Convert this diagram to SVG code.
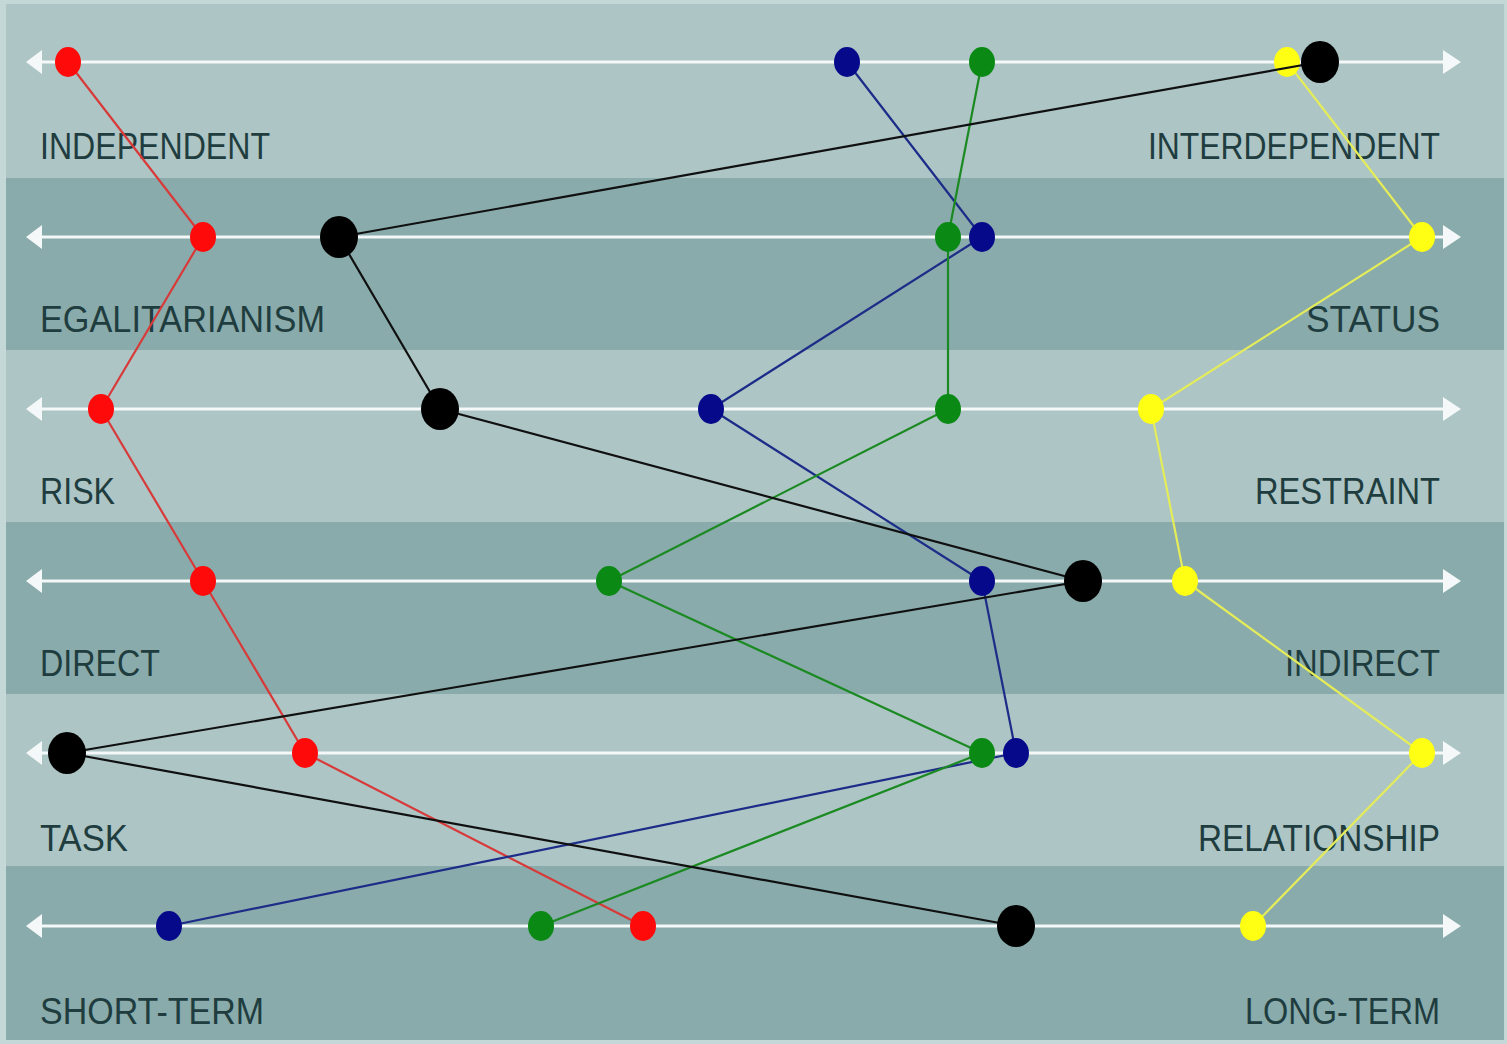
<svg xmlns="http://www.w3.org/2000/svg" width="1507" height="1044" viewBox="0 0 1507 1044">
<style>
.light{fill:#adc5c5}
.dark{fill:#89abab}
.axis{stroke:#f4f8f8;stroke-width:3;fill:none}
.head{fill:#f4f8f8}
.lbl{font-family:"Liberation Sans",Arial,sans-serif;font-size:36px;fill:#1f3d3f}
.r{text-anchor:end}
.ln{fill:none;stroke-width:2.2;stroke-linejoin:round}
</style>
<rect x="0" y="0" width="1507" height="1044" fill="#c4d8d8"/>
<g id="bands">
<rect class="light" x="6" y="4" width="1498" height="174"/>
<rect class="dark" x="6" y="178" width="1498" height="172"/>
<rect class="light" x="6" y="350" width="1498" height="172"/>
<rect class="dark" x="6" y="522" width="1498" height="172"/>
<rect class="light" x="6" y="694" width="1498" height="172"/>
<rect class="dark" x="6" y="866" width="1498" height="174"/>
</g>
<g id="axes">
<line class="axis" x1="38" y1="62" x2="1448" y2="62"/>
<line class="axis" x1="38" y1="237" x2="1448" y2="237"/>
<line class="axis" x1="38" y1="409" x2="1448" y2="409"/>
<line class="axis" x1="38" y1="581" x2="1448" y2="581"/>
<line class="axis" x1="38" y1="753" x2="1448" y2="753"/>
<line class="axis" x1="38" y1="926" x2="1448" y2="926"/>
<path class="head" d="M26 62 L42 50 L42 74 Z M1461 62 L1443 50 L1443 74 Z"/>
<path class="head" d="M26 237 L42 225 L42 249 Z M1461 237 L1443 225 L1443 249 Z"/>
<path class="head" d="M26 409 L42 397 L42 421 Z M1461 409 L1443 397 L1443 421 Z"/>
<path class="head" d="M26 581 L42 569 L42 593 Z M1461 581 L1443 569 L1443 593 Z"/>
<path class="head" d="M26 753 L42 741 L42 765 Z M1461 753 L1443 741 L1443 765 Z"/>
<path class="head" d="M26 926 L42 914 L42 938 Z M1461 926 L1443 914 L1443 938 Z"/>
</g>
<g id="labels">
<text class="lbl" x="40" y="159" textLength="230" lengthAdjust="spacingAndGlyphs">INDEPENDENT</text>
<text class="lbl r" x="1440" y="159" textLength="292" lengthAdjust="spacingAndGlyphs">INTERDEPENDENT</text>
<text class="lbl" x="40" y="332" textLength="285" lengthAdjust="spacingAndGlyphs">EGALITARIANISM</text>
<text class="lbl r" x="1440" y="332" textLength="134" lengthAdjust="spacingAndGlyphs">STATUS</text>
<text class="lbl" x="40" y="504" textLength="75" lengthAdjust="spacingAndGlyphs">RISK</text>
<text class="lbl r" x="1440" y="504" textLength="185" lengthAdjust="spacingAndGlyphs">RESTRAINT</text>
<text class="lbl" x="40" y="676" textLength="120" lengthAdjust="spacingAndGlyphs">DIRECT</text>
<text class="lbl r" x="1440" y="676" textLength="155" lengthAdjust="spacingAndGlyphs">INDIRECT</text>
<text class="lbl" x="40" y="851" textLength="88" lengthAdjust="spacingAndGlyphs">TASK</text>
<text class="lbl r" x="1440" y="851" textLength="242" lengthAdjust="spacingAndGlyphs">RELATIONSHIP</text>
<text class="lbl" x="40" y="1024" textLength="224" lengthAdjust="spacingAndGlyphs">SHORT-TERM</text>
<text class="lbl r" x="1440" y="1024" textLength="195" lengthAdjust="spacingAndGlyphs">LONG-TERM</text>
</g>
<g id="connectors">
<polyline class="ln" stroke="#d83a3a" points="68,62 203,237 101,409 203,581 305,753 643,926"/>
<polyline class="ln" stroke="#1c2c88" points="847,62 982,237 711,409 982,581 1016,753 169,926"/>
<polyline class="ln" stroke="#1c8a22" points="982,62 948,237 948,409 609,581 982,753 541,926"/>
<polyline class="ln" stroke="#e4ec5a" points="1287,62 1422,237 1151,409 1185,581 1422,753 1253,926"/>
</g>
<g id="red" fill="#ff0a0a">
<ellipse cx="68" cy="62" rx="13" ry="15"/>
<ellipse cx="203" cy="237" rx="13" ry="15"/>
<ellipse cx="101" cy="409" rx="13" ry="15"/>
<ellipse cx="203" cy="581" rx="13" ry="15"/>
<ellipse cx="305" cy="753" rx="13" ry="15"/>
<ellipse cx="643" cy="926" rx="13" ry="15"/>
</g>
<g id="blue" fill="#060a8a">
<ellipse cx="847" cy="62" rx="13" ry="15"/>
<ellipse cx="982" cy="237" rx="13" ry="15"/>
<ellipse cx="711" cy="409" rx="13" ry="15"/>
<ellipse cx="982" cy="581" rx="13" ry="15"/>
<ellipse cx="1016" cy="753" rx="13" ry="15"/>
<ellipse cx="169" cy="926" rx="13" ry="15"/>
</g>
<g id="green" fill="#0a8a14">
<ellipse cx="982" cy="62" rx="13" ry="15"/>
<ellipse cx="948" cy="237" rx="13" ry="15"/>
<ellipse cx="948" cy="409" rx="13" ry="15"/>
<ellipse cx="609" cy="581" rx="13" ry="15"/>
<ellipse cx="982" cy="753" rx="13" ry="15"/>
<ellipse cx="541" cy="926" rx="13" ry="15"/>
</g>
<g id="yellow" fill="#ffff14">
<ellipse cx="1287" cy="62" rx="13" ry="15"/>
<ellipse cx="1422" cy="237" rx="13" ry="15"/>
<ellipse cx="1151" cy="409" rx="13" ry="15"/>
<ellipse cx="1185" cy="581" rx="13" ry="15"/>
<ellipse cx="1422" cy="753" rx="13" ry="15"/>
<ellipse cx="1253" cy="926" rx="13" ry="15"/>
</g>
<g id="black-line">
<polyline class="ln" stroke="#101010" points="1320,62 339,237 440,409 1083,581 67,753 1016,926"/>
</g>
<g id="black" fill="#000">
<ellipse cx="1320" cy="62" rx="19" ry="21"/>
<ellipse cx="339" cy="237" rx="19" ry="21"/>
<ellipse cx="440" cy="409" rx="19" ry="21"/>
<ellipse cx="1083" cy="581" rx="19" ry="21"/>
<ellipse cx="67" cy="753" rx="19" ry="21"/>
<ellipse cx="1016" cy="926" rx="19" ry="21"/>
</g>
</svg>
